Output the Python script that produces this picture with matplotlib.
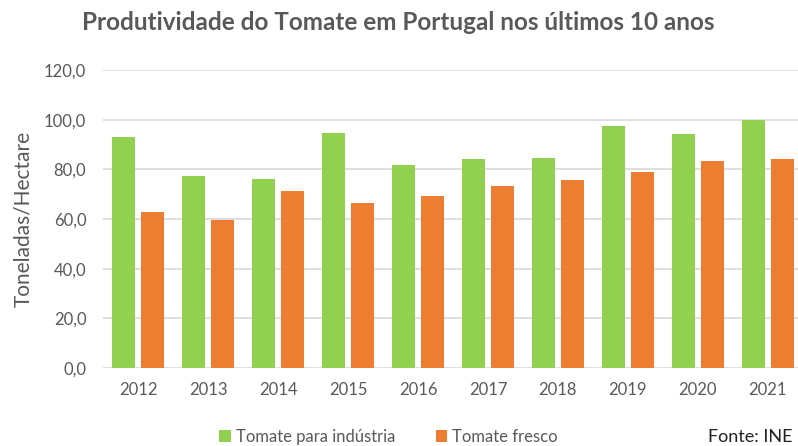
import numpy as np
import matplotlib.pyplot as plt

# data
anos = ['2012', '2013', '2014', '2015', '2016', '2017', '2018', '2019', '2020', '2021']
industria = [93.2, 77.5, 76.0, 94.5, 81.7, 84.1, 84.5, 97.5, 94.1, 99.7]
fresco = [62.7, 59.5, 71.2, 66.5, 69.2, 73.2, 75.6, 78.9, 83.5, 84.1]

plt.rcParams['font.family'] = ['Lato', 'DejaVu Sans']
cinza = '#595959'

fig = plt.figure(figsize=(7.98, 4.46), dpi=100)
ax = fig.add_axes([103 / 798, 1 - 368 / 446, 695 / 798, 298 / 446])

x = np.arange(len(anos))
w = 0.333
gap = 0.086
ax.bar(x - (w + gap) / 2, industria, w, color='#92D050', label='Tomate para indústria', zorder=3)
ax.bar(x + (w + gap) / 2, fresco, w, color='#ED7D31', label='Tomate fresco', zorder=3)

ax.set_ylim(0, 120)
ax.set_xlim(-0.5, 9.43)
ax.set_yticks(np.arange(0, 121, 20))
ax.set_yticklabels([f'{v:.1f}'.replace('.', ',') for v in np.arange(0, 121, 20)])
ax.set_xticks(x)
ax.set_xticklabels(anos)
ax.tick_params(axis='both', length=0, labelsize=12, colors=cinza)
ax.tick_params(axis='x', pad=10)
ax.tick_params(axis='y', pad=12)
ax.yaxis.grid(True, color='#D9D9D9', linewidth=1.2, zorder=0)
for s in ax.spines.values():
    s.set_visible(False)

ax.set_ylabel('Toneladas/Hectare', fontsize=15, color=cinza, labelpad=8)

fig.text(0.499, 0.95, 'Produtividade do Tomate em Portugal nos últimos 10 anos',
         ha='center', va='center', fontsize=17.5, fontweight='bold', color=cinza)

fig.legend(loc='center', bbox_to_anchor=(0.487, 0.02), ncol=2, frameon=False,
           fontsize=12, labelcolor=cinza, handlelength=0.7, handleheight=0.7,
           handletextpad=0.3, columnspacing=2.4)
fig.text(0.993, 0.02, 'Fonte: INE', ha='right', va='center', fontsize=13, color='#222222')

fig.savefig('out.png', dpi=100)
